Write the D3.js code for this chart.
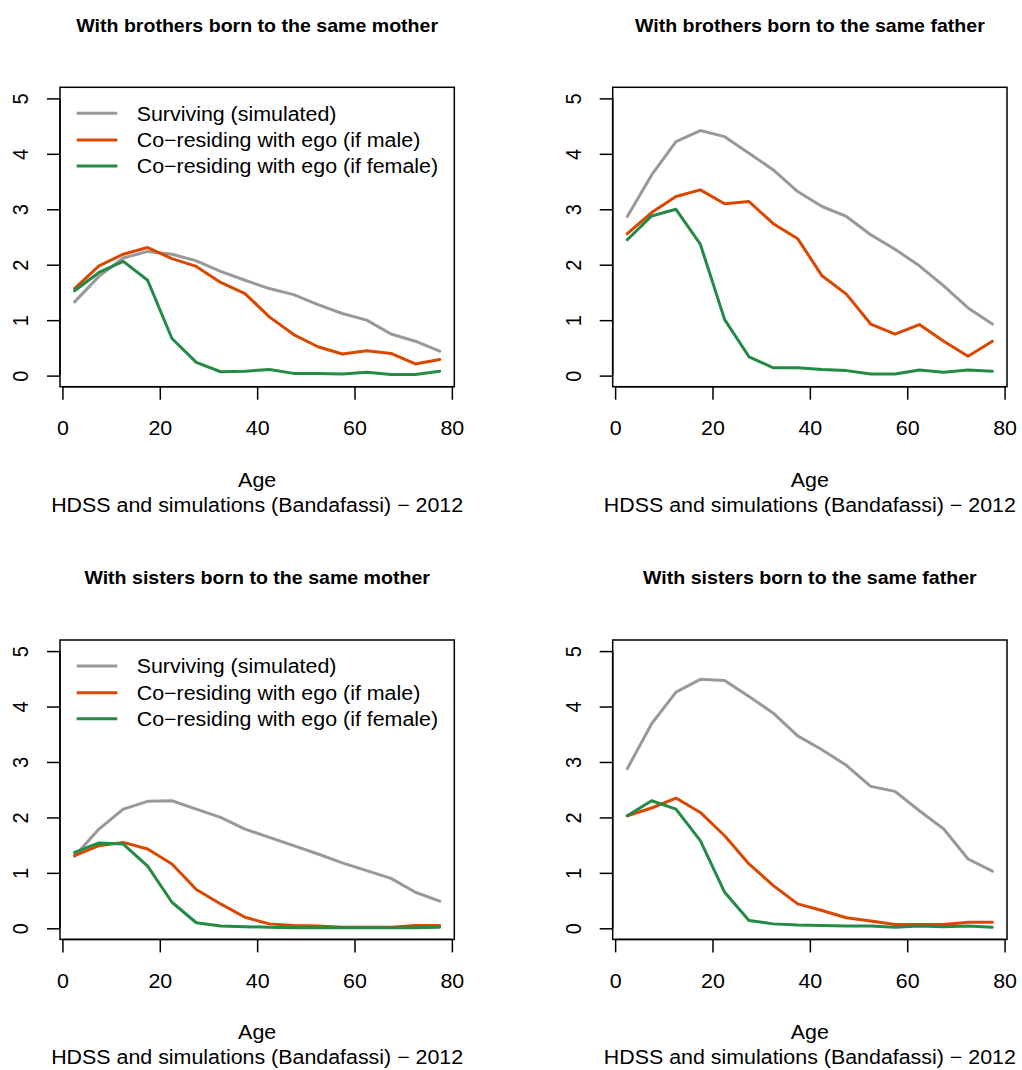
<!DOCTYPE html>
<html>
<head>
<meta charset="utf-8">
<script src="https://cdn.jsdelivr.net/npm/d3@7"></script>
<style>
  html, body { margin: 0; padding: 0; background: #ffffff; }
  svg { display: block; }
</style>
</head>
<body>
<div id="chart"></div>
<script>
// ---------------- DATA ----------------
const ages = [2.5, 7.5, 12.5, 17.5, 22.5, 27.5, 32.5, 37.5, 42.5, 47.5, 52.5, 57.5, 62.5, 67.5, 72.5, 77.5];

const titles = [
  "With brothers born to the same mother",
  "With brothers born to the same father",
  "With sisters born to the same mother",
  "With sisters born to the same father"
];

const seriesNames = ["Surviving (simulated)", "Co\u2212residing with ego (if male)", "Co\u2212residing with ego (if female)"];
const seriesColors = ["#999999", "#D94801", "#238B45"];

// Panel 1: brothers, same mother
const bm_surviving = [1.33, 1.79, 2.12, 2.24, 2.19, 2.07, 1.88, 1.72, 1.57, 1.46, 1.28, 1.12, 1.00, 0.75, 0.62, 0.44];
const bm_male      = [1.57, 1.98, 2.19, 2.31, 2.11, 1.97, 1.68, 1.48, 1.06, 0.74, 0.52, 0.39, 0.45, 0.40, 0.21, 0.29];
const bm_female    = [1.53, 1.86, 2.06, 1.72, 0.67, 0.24, 0.07, 0.08, 0.11, 0.04, 0.04, 0.03, 0.06, 0.02, 0.02, 0.08];

// Panel 2: brothers, same father
const bf_surviving = [2.87, 3.62, 4.22, 4.42, 4.31, 4.01, 3.71, 3.32, 3.05, 2.87, 2.54, 2.28, 1.98, 1.62, 1.22, 0.93];
const bf_male      = [2.56, 2.94, 3.23, 3.35, 3.10, 3.14, 2.74, 2.47, 1.80, 1.47, 0.93, 0.75, 0.92, 0.62, 0.35, 0.62];
const bf_female    = [2.45, 2.88, 3.00, 2.37, 1.01, 0.34, 0.14, 0.14, 0.11, 0.09, 0.03, 0.03, 0.10, 0.06, 0.10, 0.08];

// Panel 3: sisters, same mother
const sm_surviving = [1.30, 1.79, 2.15, 2.29, 2.30, 2.15, 2.00, 1.79, 1.64, 1.49, 1.34, 1.18, 1.04, 0.90, 0.65, 0.49];
const sm_male      = [1.31, 1.49, 1.55, 1.43, 1.16, 0.70, 0.44, 0.20, 0.08, 0.05, 0.04, 0.02, 0.02, 0.02, 0.05, 0.05];
const sm_female    = [1.37, 1.54, 1.52, 1.12, 0.47, 0.10, 0.04, 0.03, 0.02, 0.01, 0.01, 0.01, 0.01, 0.01, 0.01, 0.02];

// Panel 4: sisters, same father
const sf_surviving = [2.88, 3.69, 4.26, 4.49, 4.47, 4.18, 3.88, 3.47, 3.22, 2.94, 2.56, 2.47, 2.12, 1.79, 1.25, 1.03];
const sf_male      = [2.03, 2.17, 2.35, 2.09, 1.67, 1.16, 0.77, 0.44, 0.32, 0.19, 0.13, 0.07, 0.07, 0.07, 0.11, 0.11];
const sf_female    = [2.03, 2.30, 2.15, 1.58, 0.65, 0.14, 0.08, 0.06, 0.05, 0.04, 0.04, 0.02, 0.04, 0.03, 0.04, 0.02];

const xTicks = [0, 20, 40, 60, 80];
const yTicks = [0, 1, 2, 3, 4, 5];
const xLabel = "Age";
const subLabel = "HDSS and simulations (Bandafassi) \u2212 2012";

const panels = [
  { title: titles[0], series: [bm_surviving, bm_male, bm_female], legend: true },
  { title: titles[1], series: [bf_surviving, bf_male, bf_female], legend: false },
  { title: titles[2], series: [sm_surviving, sm_male, sm_female], legend: true },
  { title: titles[3], series: [sf_surviving, sf_male, sf_female], legend: false }
];

// ---------------- LAYOUT ----------------
const W = 1022, H = 1070;
const plotW = 394.3, plotH = 299.4;
const left0 = 60, top0 = 87.3, step = 552.7;
const FONT = "'Liberation Sans', Arial, Helvetica, sans-serif";
const FS = 20, SX = 1.07, TFS = 18.3;

const svg = d3.select("#chart").append("svg")
  .attr("width", W).attr("height", H)
  .attr("font-family", FONT);
svg.append("rect").attr("width", W).attr("height", H).attr("fill", "#fff");

const x = d3.scaleLinear().domain([-0.5, 80.5]).range([0, plotW]);
const y = d3.scaleLinear().domain([-0.2, 5.2]).range([plotH, 0]);

panels.forEach((p, i) => {
  const col = i % 2, row = Math.floor(i / 2);
  const g = svg.append("g")
    .attr("transform", `translate(${left0 + col * step},${top0 + row * step})`);

  // data lines
  const line = d3.line().x((d, j) => x(ages[j])).y(d => y(d));
  p.series.forEach((s, k) => {
    g.append("path").datum(s)
      .attr("d", line)
      .attr("fill", "none")
      .attr("stroke", seriesColors[k])
      .attr("stroke-width", 3)
      .attr("stroke-linejoin", "round")
      .attr("stroke-linecap", "round");
  });

  // box
  g.append("rect").attr("x", 0).attr("y", 0).attr("width", plotW).attr("height", plotH)
    .attr("fill", "none").attr("stroke", "#000").attr("stroke-width", 1.5);

  // x axis
  const gx = g.append("g").attr("transform", `translate(0,${plotH})`)
    .call(d3.axisBottom(x).tickValues(xTicks).tickSize(13).tickSizeOuter(0).tickFormat(d3.format("d")));
  gx.select(".domain").attr("d", `M${x(xTicks[0])},0H${x(xTicks[xTicks.length - 1])}`).attr("stroke-width", 1.5);
  gx.selectAll(".tick line").attr("stroke-width", 1.5);
  gx.selectAll(".tick text")
    .attr("y", null).attr("dy", null)
    .attr("font-size", FS).attr("font-family", FONT).attr("fill", "#000")
    .attr("text-anchor", "middle")
    .attr("transform", `translate(0,48.3) scale(${SX},1)`);

  // y axis
  const gy = g.append("g")
    .call(d3.axisLeft(y).tickValues(yTicks).tickSize(13).tickSizeOuter(0).tickFormat(d3.format("d")));
  gy.select(".domain").attr("d", `M0,${y(yTicks[0])}V${y(yTicks[yTicks.length - 1])}`).attr("stroke-width", 1.5);
  gy.selectAll(".tick line").attr("stroke-width", 1.5);
  gy.selectAll(".tick text")
    .attr("x", null).attr("dy", null)
    .attr("font-size", FS).attr("font-family", FONT).attr("fill", "#000")
    .attr("text-anchor", "middle")
    .attr("transform", `translate(-31.7,0) scale(${SX},1) rotate(-90)`);

  // title
  g.append("text")
    .attr("transform", `translate(${plotW / 2},${31.5 - top0}) scale(${SX},1)`)
    .attr("text-anchor", "middle")
    .attr("font-weight", "bold")
    .attr("font-size", TFS)
    .text(p.title);

  // x label & subtitle
  g.append("text")
    .attr("transform", `translate(${plotW / 2},${plotH + 100}) scale(${SX},1)`)
    .attr("text-anchor", "middle").attr("font-size", FS)
    .text(xLabel);
  g.append("text")
    .attr("transform", `translate(${plotW / 2},${plotH + 125}) scale(${SX},1)`)
    .attr("text-anchor", "middle").attr("font-size", FS)
    .text(subLabel);

  // legend
  if (p.legend) {
    const ly = [26, 52.7, 78.7];
    seriesNames.forEach((name, k) => {
      g.append("line")
        .attr("x1", 16.7).attr("x2", 57.3)
        .attr("y1", ly[k]).attr("y2", ly[k])
        .attr("stroke", seriesColors[k]).attr("stroke-width", 3);
      g.append("text")
        .attr("transform", `translate(76.7,${ly[k] + 7.2}) scale(${SX},1)`)
        .attr("font-size", FS)
        .text(name);
    });
  }
});
</script>
</body>
</html>
